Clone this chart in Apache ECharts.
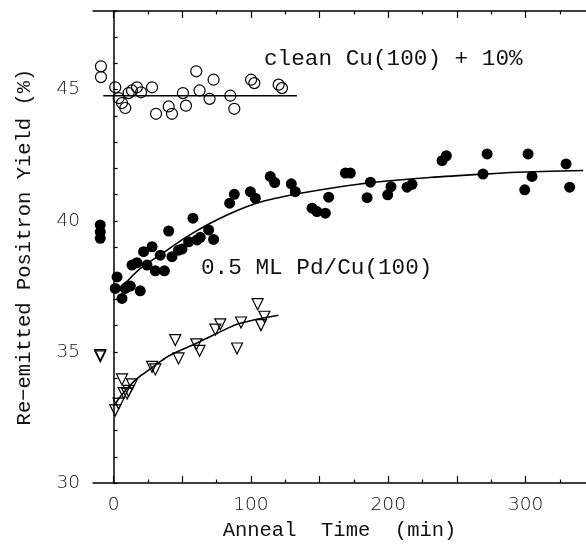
<!DOCTYPE html>
<html>
<head>
<meta charset="utf-8">
<title>Re-emitted Positron Yield</title>
<script src="https://cdn.jsdelivr.net/npm/echarts@6/dist/echarts.min.js"></script>
<style>
  html, body { margin: 0; padding: 0; background: #fff; }
  #chart { width: 586px; height: 546px; }
</style>
</head>
<body>
<div id="chart"></div>
<script>
//clean Cu(100) + 10%  (open circles)
var cleanTime  = [-9.2, -9.2, 1.2, 3.7, 6.1, 8.5, 10.9, 13.4, 17.0, 20.0, 28.0, 30.9, 40.1, 42.5, 50.5, 52.7, 60.2, 62.6, 69.9, 72.8, 85.0, 87.9, 100.1, 102.5, 120.2, 122.6];
var cleanYield = [45.89, 45.48, 45.09, 44.68, 44.49, 44.30, 44.87, 44.97, 45.09, 44.90, 45.09, 44.08, 44.36, 44.08, 44.87, 44.39, 45.70, 44.97, 44.65, 45.38, 44.77, 44.27, 45.38, 45.25, 45.19, 45.06];
var cleanFitTime  = [-7.5, 133.5];
var cleanFitYield = [44.77, 44.77];

//0.5 ML Pd/Cu(100)  (filled circles)
var pdTime  = [-9.7, -9.7, -9.7, 2.5, 1.2, 6.1, 8.5, 9.8, 12.2, 19.4, 13.4, 17.0, 21.8, 24.3, 28.0, 30.4, 34.0, 37.0, 40.1, 42.5, 47.3, 49.8, 54.6, 57.8, 60.7, 63.1, 69.2, 72.8, 84.5, 87.9, 99.6, 103.2, 114.1, 117.3, 129.4, 132.3, 144.5, 148.1, 154.2, 156.6, 168.8, 172.4, 184.6, 187.0, 199.6, 202.0, 213.7, 217.3, 239.2, 242.3, 269.0, 272.0, 299.4, 301.8, 304.7, 329.5, 332.1];
var pdYield = [39.84, 39.58, 39.33, 37.86, 37.42, 37.04, 37.42, 37.48, 37.51, 37.33, 38.31, 38.40, 38.82, 38.31, 39.01, 38.09, 38.69, 38.09, 39.61, 38.63, 38.88, 38.92, 39.20, 40.10, 39.27, 39.37, 39.65, 39.29, 40.67, 41.01, 41.11, 40.86, 41.69, 41.46, 41.41, 41.11, 40.48, 40.35, 40.29, 40.90, 41.82, 41.82, 40.88, 41.47, 40.99, 41.30, 41.28, 41.39, 42.29, 42.48, 41.78, 42.55, 41.18, 42.55, 41.69, 42.17, 41.28];
var pdFitTime  = [3, 10, 20, 39, 52, 68, 85, 104, 120, 136, 165, 187, 230, 269, 300, 342];
var pdFitYield = [37.3, 37.7, 38.2, 38.88, 39.35, 39.84, 40.28, 40.67, 40.88, 41.05, 41.3, 41.45, 41.65, 41.78, 41.86, 41.92];

//triangles
var triTime  = [-9.7, -9.7, 1.2, 3.6, 6.1, 7.3, 9.8, 10.9, 13.4, 28.0, 30.4, 44.9, 47.3, 60.2, 62.6, 74.1, 77.7, 89.9, 92.8, 104.9, 107.3, 109.8];
var triYield = [34.88, 34.83, 32.77, 33.03, 33.95, 33.43, 33.41, 33.51, 33.76, 34.43, 34.33, 35.45, 34.75, 35.29, 35.04, 35.85, 36.05, 35.13, 36.12, 36.82, 36.02, 36.34];
var triFitTime  = [1, 5, 12, 20, 28, 41, 60, 75, 90, 105, 120];
var triFitYield = [33.0, 33.3, 33.73, 34.1, 34.4, 34.87, 35.32, 35.7, 36.05, 36.25, 36.4];

//坐标轴刻度
var xMajorTicks = [0, 50, 100, 150, 200, 250, 300];
var xMinorTicks = [25, 75, 125, 175, 225, 275, 325];
var xLabels     = [0, 100, 200, 300];

function zip(a, b){
    var r = [];
    for(var i = 0; i < a.length; i++){
        r.push([a[i], b[i]]);
    }
    return r;
}

var chart = echarts.init(document.getElementById('chart'));
var monoFont = '"Liberation Mono", "Courier New", monospace';
var sansFont = '"DejaVu Sans", sans-serif';

function tickAxis(pos, ticks, len, showLine){
    return {
        type: 'value', position: pos, min: -15, max: 344,
        axisLine: { show: showLine, lineStyle: { color: '#000', width: 1.5 } },
        axisTick: { show: true, inside: true, length: len, customValues: ticks, lineStyle: { color: '#000', width: 1.2 } },
        axisLabel: { show: false },
        splitLine: { show: false }
    };
}

var xMain = tickAxis('bottom', xMajorTicks, 7, true);
xMain.axisLabel = {
    show: true, customValues: xLabels, margin: 13,
    color: '#111', fontFamily: sansFont, fontSize: 18.5, fontWeight: 200
};
xMain.name = 'Anneal  Time  (min)';
xMain.nameLocation = 'middle';
xMain.nameGap = 36;
xMain.nameTextStyle = { color: '#111', fontFamily: monoFont, fontSize: 20.5 };

var option = {
    animation: false,
    backgroundColor: '#fff',
    grid: { left: 93, right: 0, top: 11, bottom: 63 },
    xAxis: [
        xMain,
        tickAxis('bottom', xMinorTicks, 3.5, false),
        tickAxis('top', xMajorTicks, 7, true),
        tickAxis('top', xMinorTicks, 3.5, false)
    ],
    yAxis: {
        type: 'value', min: 30, max: 48, interval: 1,
        axisLine: { show: true, lineStyle: { color: '#000', width: 1.5 } },
        axisTick: { inside: true, length: 4, lineStyle: { color: '#000', width: 1.2 } },
        axisLabel: {
            margin: 13, color: '#111', fontFamily: sansFont, fontSize: 18.5, fontWeight: 200,
            formatter: function(v){ return v % 5 === 0 ? String(v) : ''; }
        },
        splitLine: { show: false },
        name: 'Re\u2212emitted Positron Yield (%)',
        nameLocation: 'middle',
        nameGap: 58,
        nameTextStyle: { color: '#111', fontFamily: monoFont, fontSize: 20.5 }
    },
    graphic: [
        { type: 'text', x: 264, y: 59, style: { text: 'clean Cu(100) + 10%', font: '22.7px ' + monoFont, fill: '#111', verticalAlign: 'middle' } },
        { type: 'text', x: 201, y: 268, style: { text: '0.5 ML Pd/Cu(100)', font: '22.7px ' + monoFont, fill: '#111', verticalAlign: 'middle' } }
    ],
    series: [
        {
            type: 'line', data: zip(cleanFitTime, cleanFitYield), showSymbol: false,
            lineStyle: { color: '#000', width: 1.6 }
        },
        {
            type: 'line', data: zip(pdFitTime, pdFitYield), showSymbol: false, smooth: 0.3,
            lineStyle: { color: '#000', width: 1.6 }
        },
        {
            type: 'line', data: zip(triFitTime, triFitYield), showSymbol: false, smooth: 0.3,
            lineStyle: { color: '#000', width: 1.6 }
        },
        {
            type: 'scatter', data: zip(cleanTime, cleanYield), symbol: 'circle', symbolSize: 11,
            itemStyle: { color: 'rgba(0,0,0,0)', borderColor: '#000', borderWidth: 1.2, opacity: 1 }
        },
        {
            type: 'scatter', data: zip(pdTime, pdYield), symbol: 'circle', symbolSize: 11,
            itemStyle: { color: '#000', opacity: 1 }
        },
        {
            type: 'scatter', data: zip(triTime, triYield), symbol: 'triangle', symbolRotate: 180, symbolSize: 11,
            itemStyle: { color: 'rgba(0,0,0,0)', borderColor: '#000', borderWidth: 1.2, opacity: 1 }
        }
    ]
};
chart.setOption(option);
</script>
</body>
</html>
